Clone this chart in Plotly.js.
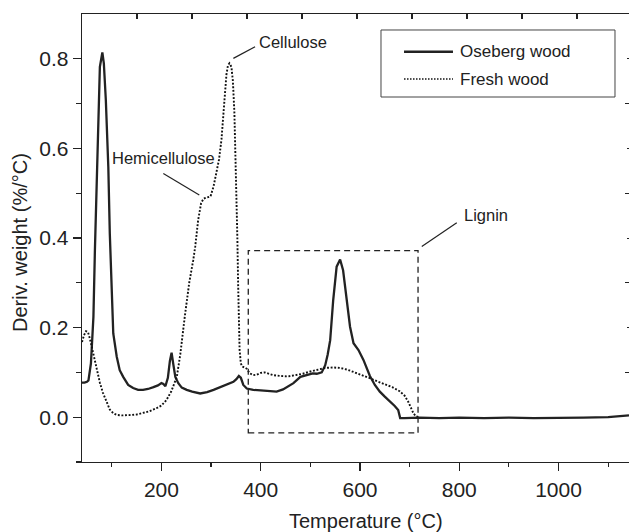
<!DOCTYPE html>
<html>
<head>
<meta charset="utf-8">
<script src="https://cdn.plot.ly/plotly-3.0.1.min.js"></script>
<style>
  html, body { margin: 0; padding: 0; background: #fff; overflow: hidden; }
  #chart { width: 629px; height: 532px; }
</style>
</head>
<body>
<div id="chart"></div>
<script>
// Derivative thermogravimetric curves (DTG), temperature in °C
const osebergTemp = [40, 45, 50, 53, 58, 63, 66, 70, 76, 81, 84, 88, 93, 96, 100, 103, 110, 116, 123, 133, 143, 153, 163, 173, 184, 193, 200, 204, 208, 213, 217, 220.5, 224, 228, 234, 241, 251, 262, 278, 292, 305, 318, 332, 345, 351, 356, 360, 365, 372, 385, 400, 415, 432, 445, 455, 466, 480, 493, 505, 513, 523, 530, 535, 540, 546, 553, 560, 566, 573, 580, 587, 597, 607, 620, 630, 640, 650, 661, 670, 677, 681, 690, 720, 760, 800, 850, 900, 950, 1000, 1050, 1100, 1125, 1142];
const osebergDeriv = [0.077, 0.077, 0.079, 0.082, 0.12, 0.224, 0.373, 0.55, 0.782, 0.814, 0.79, 0.708, 0.559, 0.41, 0.299, 0.187, 0.135, 0.105, 0.09, 0.072, 0.065, 0.061, 0.061, 0.063, 0.067, 0.071, 0.076, 0.074, 0.069, 0.088, 0.125, 0.144, 0.118, 0.09, 0.076, 0.066, 0.061, 0.057, 0.053, 0.056, 0.061, 0.067, 0.072, 0.079, 0.085, 0.092, 0.088, 0.072, 0.064, 0.061, 0.06, 0.058, 0.057, 0.062, 0.068, 0.076, 0.09, 0.095, 0.098, 0.097, 0.1, 0.116, 0.14, 0.172, 0.26, 0.336, 0.352, 0.328, 0.26, 0.202, 0.165, 0.15, 0.128, 0.092, 0.072, 0.057, 0.046, 0.035, 0.025, 0.016, -0.002, -0.002, -0.001, -0.002, -0.001, -0.002, -0.001, -0.002, -0.002, -0.001, 0.0, 0.002, 0.004];

const freshTemp = [40, 44, 48, 52, 56, 60, 65, 70, 76, 82, 90, 96, 103, 110, 120, 130, 140, 150, 163, 175, 190, 200, 210, 220, 231, 238, 247, 256, 264, 268, 274, 280, 285, 292, 299, 305, 311, 316, 321, 326, 331, 334, 337, 341, 344, 347, 349, 351, 353, 354.5, 356, 357.5, 360, 363, 368, 372, 378, 385, 392, 400, 408, 415, 425, 440, 455, 470, 485, 500, 515, 530, 545, 560, 575, 590, 605, 620, 635, 650, 665, 680, 690, 697, 703, 708, 713, 720];
const freshDeriv = [0.168, 0.183, 0.192, 0.19, 0.175, 0.155, 0.13, 0.105, 0.077, 0.055, 0.031, 0.017, 0.009, 0.005, 0.004, 0.004, 0.005, 0.006, 0.009, 0.013, 0.02, 0.026, 0.038, 0.058, 0.09, 0.14, 0.224, 0.3, 0.35, 0.38, 0.44, 0.478, 0.488, 0.49, 0.493, 0.515, 0.545, 0.575, 0.62, 0.69, 0.765, 0.785, 0.79, 0.782, 0.75, 0.68, 0.6, 0.52, 0.4, 0.3, 0.2, 0.15, 0.12, 0.113, 0.111, 0.108, 0.098, 0.094, 0.095, 0.099, 0.1, 0.097, 0.094, 0.092, 0.091, 0.094, 0.097, 0.102, 0.106, 0.11, 0.111, 0.11, 0.106, 0.1, 0.093, 0.087, 0.08, 0.074, 0.067, 0.058, 0.048, 0.035, 0.02, 0.008, 0.002, 0.0];

const seriesNames = ['Oseberg wood', 'Fresh wood'];
const xTickVals = [200, 400, 600, 800, 1000];
const yTickVals = [0.0, 0.2, 0.4, 0.6, 0.8];

const ink = '#222222';
const font = 'Liberation Sans, Arial, Helvetica, sans-serif';
const solidLine = { color: ink, width: 2.3 };
const dottedLine = { color: '#111', width: 1.9, dash: '1.9px,1.7px' };

const traces = [
  { x: osebergTemp, y: osebergDeriv, name: seriesNames[0], type: 'scatter', mode: 'lines', line: solidLine },
  { x: freshTemp, y: freshDeriv, name: seriesNames[1], type: 'scatter', mode: 'lines', line: dottedLine },
  // invisible carrier for the frame's top and right tick marks
  { x: [0], y: [0], xaxis: 'x2', yaxis: 'y2', type: 'scatter', mode: 'none', showlegend: false, hoverinfo: 'skip' }
];

const txt = (text, x, y, size) => ({
  text, x, y, xref: 'x', yref: 'y', xanchor: 'left', yanchor: 'middle',
  showarrow: false, font: { family: font, size, color: ink }
});

// legend box drawn in paper coordinates
const legendBox = { x0: 0.5466, x1: 0.9744, y0: 0.8147, y1: 0.9643 };
const legendRows = [0.9158, 0.8549];
const legendSample = { x0: 0.5887, x1: 0.6782 };
const legendTextX = 0.6868;

const legendShapes = [
  { type: 'rect', xref: 'paper', yref: 'paper', ...legendBox, fillcolor: '#fff', line: { color: '#444', width: 1 } },
  { type: 'line', xref: 'paper', yref: 'paper', x0: legendSample.x0, x1: legendSample.x1, y0: legendRows[0], y1: legendRows[0], line: { color: ink, width: 2.4 } },
  { type: 'line', xref: 'paper', yref: 'paper', x0: legendSample.x0, x1: legendSample.x1, y0: legendRows[1], y1: legendRows[1], line: { color: '#111', width: 1.5, dash: '1.5px,1.5px' } }
];
const legendLabels = seriesNames.map((name, i) => ({
  text: name, xref: 'paper', yref: 'paper', x: legendTextX, y: legendRows[i],
  xanchor: 'left', yanchor: 'middle', showarrow: false,
  font: { family: font, size: 17, color: ink }
}));

const layout = {
  width: 629, height: 532,
  margin: { l: 82, r: 0, t: 14, b: 70 },
  paper_bgcolor: '#fff', plot_bgcolor: '#fff',
  font: { family: font, color: ink },
  showlegend: false,
  xaxis: {
    range: [40, 1142], showgrid: false, zeroline: false,
    showline: true, linecolor: ink, linewidth: 1.3,
    ticks: 'outside', ticklen: 8, tickwidth: 1.2, tickcolor: ink,
    tickmode: 'array', tickvals: xTickVals,
    tickfont: { family: font, size: 21, color: ink },
    minor: { tickmode: 'array', tickvals: [100, 300, 500, 700, 900, 1100], ticks: 'outside', ticklen: 4, tickwidth: 1.2, tickcolor: ink }
  },
  yaxis: {
    range: [-0.1, 0.9], showgrid: false, zeroline: false,
    showline: true, linecolor: ink, linewidth: 1.3,
    ticks: 'outside', ticklen: 8, tickwidth: 1.2, tickcolor: ink,
    tickmode: 'array', tickvals: yTickVals, tickformat: '.1f',
    tickfont: { family: font, size: 21, color: ink },
    minor: { tickmode: 'array', tickvals: [-0.1, 0.1, 0.3, 0.5, 0.7], ticks: 'outside', ticklen: 5, tickwidth: 1.2, tickcolor: ink }
  },
  xaxis2: {
    overlaying: 'x', side: 'top', anchor: 'y', range: [0, 9.945],
    showgrid: false, zeroline: false, showticklabels: false,
    showline: true, linecolor: ink, linewidth: 1.3,
    ticks: 'inside', ticklen: 5, tickwidth: 1.2, tickcolor: ink,
    tickmode: 'array', tickvals: [1, 2, 3, 4, 5, 6, 7, 8, 9]
  },
  yaxis2: {
    overlaying: 'y', side: 'right', anchor: 'x', range: [-0.1, 0.9],
    showgrid: false, zeroline: false, showticklabels: false, showline: false,
    ticks: 'inside', ticklen: 4, tickwidth: 1.2, tickcolor: ink,
    tickmode: 'array', tickvals: [0.1, 0.3, 0.5, 0.7],
    minor: { tickmode: 'array', tickvals: [0.2, 0.4, 0.6, 0.8], ticks: 'inside', ticklen: 2, tickwidth: 1, tickcolor: ink }
  },
  shapes: [
    // region of lignin decomposition
    { type: 'rect', xref: 'x', yref: 'y', x0: 375, x1: 717, y0: -0.035, y1: 0.372,
      line: { color: ink, width: 1.3, dash: '6px,4px' } },
    // leader lines
    { type: 'line', xref: 'x', yref: 'y', x0: 344.9, y0: 0.801, x1: 388.7, y1: 0.827, line: { color: ink, width: 1.2 } },
    { type: 'line', xref: 'x', yref: 'y', x0: 203.8, y0: 0.544, x1: 276.3, y1: 0.496, line: { color: ink, width: 1.2 } },
    { type: 'line', xref: 'x', yref: 'y', x0: 724.5, y0: 0.381, x1: 795, y1: 0.434, line: { color: ink, width: 1.2 } },
    ...legendShapes
  ],
  annotations: [
    txt('Cellulose', 393, 0.838, 16.5),
    txt('Hemicellulose', 96, 0.578, 16.5),
    txt('Lignin', 806, 0.451, 16.5),
    ...legendLabels,
    { text: 'Temperature (°C)', xref: 'paper', yref: 'paper', x: 0.519, y: -0.1317,
      xanchor: 'center', yanchor: 'middle', showarrow: false,
      font: { family: font, size: 20, color: ink } },
    { text: 'Deriv. weight (%/°C)', xref: 'paper', yref: 'paper', x: -0.1133, y: 0.489,
      xanchor: 'center', yanchor: 'middle', textangle: -90, showarrow: false,
      font: { family: font, size: 20, color: ink } }
  ]
};

Plotly.newPlot('chart', traces, layout, { staticPlot: true, displayModeBar: false });
</script>
</body>
</html>
